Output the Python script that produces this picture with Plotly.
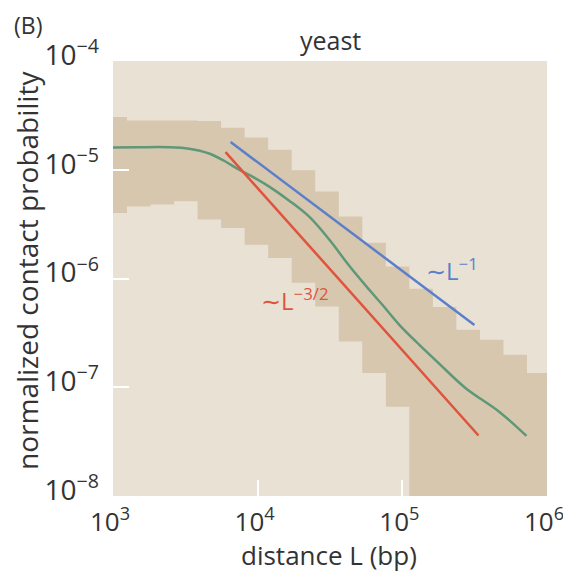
import numpy as np
import plotly.graph_objects as go

# ---- data ----
# stepped band: bin edges (bp) and upper / lower envelope per bin
band_edges = [1000, 1250, 1817, 2642, 3843, 5589, 8128, 11820, 17190, 25000,
              36360, 52880, 76900, 111800, 162600, 236500, 343900, 500100,
              727300, 1000000]
band_upper = [3.06e-5, 2.83e-5, 2.83e-5, 2.83e-5, 2.80e-5, 2.43e-5, 1.98e-5,
              1.53e-5, 9.87e-6, 6.32e-6, 3.72e-6, 2.13e-6, 1.29e-6, 8.04e-7,
              5.48e-7, 3.37e-7, 2.73e-7, 1.99e-7, 1.35e-7]
band_lower = [4.00e-6, 4.60e-6, 4.78e-6, 5.12e-6, 3.48e-6, 2.91e-6, 2.04e-6,
              1.54e-6, 9.14e-7, 5.52e-7, 2.63e-7, 1.35e-7, 6.62e-8, 1e-10,
              1e-10, 1e-10, 1e-10, 1e-10, 1e-10]

# mean contact probability (green)
green_L = [1000, 1514, 2443, 3357, 4615, 5861, 7447, 9456, 12020, 16520,
           22710, 31230, 42930, 59100, 72760, 95300, 131200, 180300, 272800,
           469000, 721000]
green_P = [1.60e-5, 1.61e-5, 1.61e-5, 1.56e-5, 1.41e-5, 1.21e-5, 1.00e-5,
           8.47e-6, 7.00e-6, 5.20e-6, 3.70e-6, 2.28e-6, 1.31e-6, 7.87e-7,
           5.73e-7, 3.75e-7, 2.45e-7, 1.64e-7, 9.86e-8, 5.93e-8, 3.57e-8]

# power-law guides
blue_L = [6.5e3, 3.15e5]     # ~L^-1
blue_P = [1.80e-5, 3.73e-7]
red_L = [6.0e3, 3.36e5]      # ~L^-3/2
red_P = [1.45e-5, 3.6e-8]

x_tickvals = [1e3, 1e4, 1e5, 1e6]
x_ticktext = ["10<sup>3</sup>", "10<sup>4</sup>", "10<sup>5</sup>", "10<sup>6</sup>"]
y_tickvals = [1e-8, 1e-7, 1e-6, 1e-5, 1e-4]
y_ticktext = ["10<sup>−8</sup>", "10<sup>−7</sup>", "10<sup>−6</sup>",
              "10<sup>−5</sup>", "10<sup>−4</sup>"]

FONT = "Open Sans"
TXT = "#333333"
BG = "#E9E2D4"
BAND = "#D6C7AE"
GREEN = "#5E9878"
BLUE = "#5B7FCB"
RED = "#E0533C"

# page has an 8px body margin; figure is placed at (8, 8) in the 571x574 window
OFF = 8
W, H = 571 - OFF, 574 - OFF
# plot-area edges in window pixels
X0, X1, Y0, Y1 = 113, 547, 61, 496
L, R = X0 - OFF, 571 - X1
T, B = Y0 - OFF, 574 - Y1
PW, PH = X1 - X0, Y1 - Y0


def px(x):
    return (x - X0) / PW


def py(y):
    return (Y1 - y) / PH


fig = go.Figure()
fig.add_trace(go.Scatter(x=band_edges, y=band_lower + [band_lower[-1]],
                         mode="lines", line=dict(width=0, shape="hv"),
                         hoverinfo="skip", showlegend=False))
fig.add_trace(go.Scatter(x=band_edges, y=band_upper + [band_upper[-1]],
                         mode="lines", line=dict(width=0, shape="hv"),
                         fill="tonexty", fillcolor=BAND,
                         hoverinfo="skip", showlegend=False))
fig.add_trace(go.Scatter(x=green_L, y=green_P, mode="lines",
                         line=dict(color=GREEN, width=2.5, shape="spline"),
                         showlegend=False))
fig.add_trace(go.Scatter(x=blue_L, y=blue_P, mode="lines",
                         line=dict(color=BLUE, width=2.5), showlegend=False))
fig.add_trace(go.Scatter(x=red_L, y=red_P, mode="lines",
                         line=dict(color=RED, width=2.5), showlegend=False))

fig.add_annotation(x=np.log10(2.2e5), y=np.log10(1.2e-6), text="∼L<sup>−1</sup>",
                   showarrow=False, font=dict(family=FONT, size=24, color=BLUE))
fig.add_annotation(x=np.log10(1.8e4), y=np.log10(6.4e-7), text="∼L<sup>−3/2</sup>",
                   showarrow=False, font=dict(family=FONT, size=24, color=RED))

# titles as page-positioned annotations
fig.add_annotation(x=px(12), y=py(25), xref="paper", yref="paper", text="(B)",
                   showarrow=False, xanchor="left", yanchor="middle",
                   font=dict(family=FONT, size=23, color=TXT))
fig.add_annotation(x=px(330), y=py(40), xref="paper", yref="paper", text="yeast",
                   showarrow=False, xanchor="center", yanchor="middle",
                   font=dict(family=FONT, size=25, color=TXT))
fig.add_annotation(x=px(329), y=py(555), xref="paper", yref="paper",
                   text="distance L (bp)", showarrow=False,
                   xanchor="center", yanchor="middle",
                   font=dict(family=FONT, size=26, color=TXT))
fig.add_annotation(x=px(27), y=py(271), xref="paper", yref="paper",
                   text="normalized contact probability", showarrow=False,
                   textangle=-90, xanchor="center", yanchor="middle",
                   font=dict(family=FONT, size=28, color=TXT))

fig.update_layout(
    width=W, height=H,
    margin=dict(l=L, r=R, t=T, b=B),
    paper_bgcolor="white", plot_bgcolor=BG,
    font=dict(family=FONT, size=24, color=TXT),
    xaxis=dict(type="log", range=[3, 6], tickvals=x_tickvals, ticktext=x_ticktext,
               ticks="inside", ticklen=16, tickwidth=2, tickcolor="white",
               showgrid=False, zeroline=False, showline=False, automargin=False,
               ticklabelstandoff=8, ticklabelshift=-3, tickfont=dict(size=26)),
    yaxis=dict(type="log", range=[-8, -4], tickvals=y_tickvals, ticktext=y_ticktext,
               ticks="inside", ticklen=16, tickwidth=2, tickcolor="white",
               showgrid=False, zeroline=False, showline=False, automargin=False,
               ticklabelstandoff=13, ticklabelshift=-6, tickfont=dict(size=28)),
)

fig.write_html("out.html")
